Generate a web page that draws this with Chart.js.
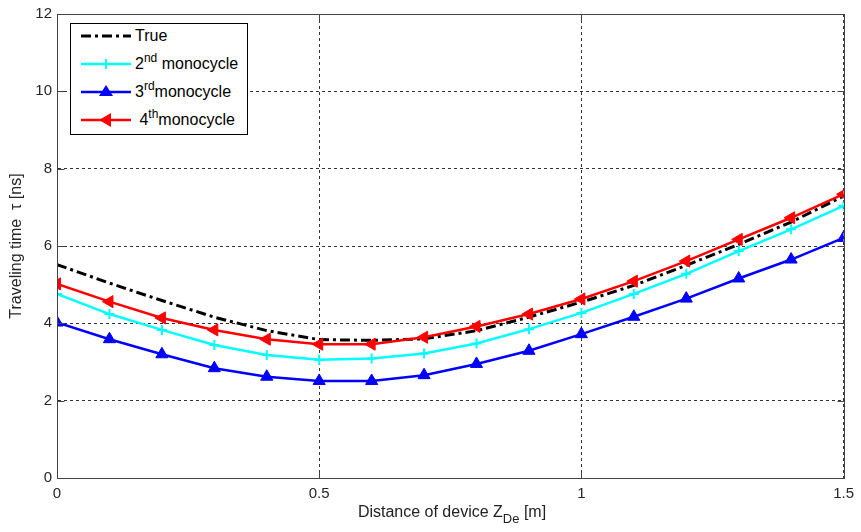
<!DOCTYPE html>
<html>
<head>
<meta charset="utf-8">
<script src="https://cdn.jsdelivr.net/npm/chart.js@4.4.1/dist/chart.umd.min.js"></script>
<style>
  body { margin: 0; background: #fff; }
  #wrap { position: relative; width: 861px; height: 532px; font-family: "Liberation Sans", Arial, sans-serif; }
  #legend { position: absolute; left: 70px; top: 23px; width: 176px; height: 110px; border: 1px solid #000; background: #fff; }
  .row { position: absolute; left: 0; height: 26px; font-size: 16px; line-height: 26px; color: #000; }
  .row svg { position: absolute; left: 9px; top: 3px; }
  .row span { position: absolute; left: 64px; white-space: nowrap; }
  sup { font-size: 12px; vertical-align: 7px; line-height: 0; }
  #xtitle { position: absolute; left: 0; width: 904px; top: 503px; text-align: center; font-size: 16px; color: #222; }
  sub { font-size: 13px; vertical-align: -6px; line-height: 0; }
</style>
</head>
<body>
<div id="wrap">
  <canvas id="chart" width="861" height="532"></canvas>
  <div id="legend">
    <div class="row" style="top:-1px">
      <svg width="52" height="20"><line x1="1" y1="10" x2="51" y2="10" stroke="#000" stroke-width="3" stroke-dasharray="10,4,3,4"/></svg>
      <span>True</span>
    </div>
    <div class="row" style="top:27px">
      <svg width="52" height="20"><line x1="1" y1="10" x2="51" y2="10" stroke="#00ffff" stroke-width="2.5"/><line x1="26" y1="5" x2="26" y2="15" stroke="#00ffff" stroke-width="2"/></svg>
      <span>2<sup>nd</sup> monocycle</span>
    </div>
    <div class="row" style="top:55px">
      <svg width="52" height="20"><line x1="1" y1="10" x2="51" y2="10" stroke="#0000ff" stroke-width="2.5"/><polygon points="26,3 33,14 19,14" fill="#0000ff"/></svg>
      <span>3<sup>rd</sup>monocycle</span>
    </div>
    <div class="row" style="top:83px">
      <svg width="52" height="20"><line x1="1" y1="10" x2="51" y2="10" stroke="#ff0000" stroke-width="2.5"/><polygon points="19,10 31,3 31,17" fill="#ff0000"/></svg>
      <span>&nbsp;4<sup>th</sup>monocycle</span>
    </div>
  </div>
  <div id="xtitle">Distance of device Z<sub>De</sub> [m]</div>
</div>
<script>
// distance of device (m)
var distances = [0, 0.1, 0.2, 0.3, 0.4, 0.5, 0.6, 0.7, 0.8, 0.9, 1.0, 1.1, 1.2, 1.3, 1.4, 1.5];
// traveling time (ns)
var trueTime   = [5.52, 5.04, 4.59, 4.16, 3.81, 3.58, 3.56, 3.60, 3.81, 4.16, 4.55, 4.98, 5.50, 6.04, 6.62, 7.29];
var secondMono = [4.76, 4.24, 3.83, 3.44, 3.18, 3.06, 3.09, 3.22, 3.48, 3.85, 4.27, 4.76, 5.28, 5.87, 6.43, 7.04];
var thirdMono  = [4.02, 3.59, 3.20, 2.84, 2.62, 2.51, 2.51, 2.66, 2.95, 3.29, 3.72, 4.17, 4.64, 5.16, 5.65, 6.21];
var fourthMono = [5.02, 4.56, 4.14, 3.83, 3.59, 3.46, 3.46, 3.64, 3.92, 4.24, 4.63, 5.09, 5.61, 6.17, 6.73, 7.34];
var xTicks = [0, 0.5, 1, 1.5];
var yTicks = [0, 2, 4, 6, 8, 10, 12];

function toPoints(vals){
  var pts = [];
  for(var i = 0; i < distances.length; i++){
    pts.push({x: distances[i], y: vals[i]});
  }
  return pts;
}

// box round the plot area with inner tick marks, like matlab axes
var boxPlugin = {
  id: 'box',
  afterDraw: function(chart){
    var a = chart.chartArea, ctx = chart.ctx;
    var l = Math.round(a.left) + 0.5, r = Math.round(a.right) + 0.5;
    var t = Math.round(a.top) + 0.5, b = Math.round(a.bottom) + 0.5;
    ctx.save();
    ctx.strokeStyle = '#444';
    ctx.lineWidth = 1;
    ctx.strokeRect(l, t, r - l, b - t);
    ctx.beginPath();
    xTicks.forEach(function(v){
      var px = Math.round(chart.scales.x.getPixelForValue(v)) + 0.5;
      ctx.moveTo(px, b); ctx.lineTo(px, b - 7);
      ctx.moveTo(px, t); ctx.lineTo(px, t + 7);
    });
    yTicks.forEach(function(v){
      var py = Math.round(chart.scales.y.getPixelForValue(v)) + 0.5;
      ctx.moveTo(l, py); ctx.lineTo(l + 7, py);
      ctx.moveTo(r, py); ctx.lineTo(r - 7, py);
    });
    ctx.stroke();
    ctx.restore();
  }
};

var font = {family: '"Liberation Sans", Arial, sans-serif', size: 15};

var ctx = document.getElementById('chart').getContext('2d');
var chart = new Chart(ctx, {
  type: 'line',
  data: {
    datasets: [{
      label: 'True',
      data: toPoints(trueTime),
      borderColor: '#000',
      borderWidth: 3,
      borderDash: [10, 4, 3, 4],
      pointRadius: 0,
      order: 4
    }, {
      label: '2nd monocycle',
      data: toPoints(secondMono),
      borderColor: '#00ffff',
      backgroundColor: '#00ffff',
      borderWidth: 2.5,
      pointStyle: 'cross',
      pointRadius: 5,
      pointBorderWidth: 2,
      order: 3
    }, {
      label: '3rd monocycle',
      data: toPoints(thirdMono),
      borderColor: '#0000ff',
      backgroundColor: '#0000ff',
      borderWidth: 2.5,
      pointStyle: 'triangle',
      pointRadius: 7,
      pointBorderWidth: 1,
      order: 2
    }, {
      label: '4th monocycle',
      data: toPoints(fourthMono),
      borderColor: '#ff0000',
      backgroundColor: '#ff0000',
      borderWidth: 2.5,
      pointStyle: 'triangle',
      rotation: -90,
      pointRadius: 7,
      pointBorderWidth: 1,
      order: 1
    }]
  },
  options: {
    responsive: false,
    animation: false,
    layout: {padding: {left: 0, right: 14, top: 14, bottom: 0}},
    plugins: {legend: {display: false}, tooltip: {enabled: false}},
    scales: {
      x: {
        type: 'linear',
        min: 0, max: 1.5,
        afterBuildTicks: function(scale){ scale.ticks = xTicks.map(function(v){ return {value: v}; }); },
        ticks: {color: '#262626', font: font, padding: 7, maxRotation: 0,
                callback: function(v){ return String(v); }},
        grid: {color: '#333', lineWidth: 1, drawTicks: false},
        border: {display: true, color: '#444', dash: [3, 3]},
        afterFit: function(scale){ scale.height = 54; }
      },
      y: {
        min: 0, max: 12,
        afterBuildTicks: function(scale){ scale.ticks = yTicks.map(function(v){ return {value: v}; }); },
        ticks: {color: '#262626', font: font, padding: 5},
        grid: {color: '#333', lineWidth: 1, drawTicks: false},
        border: {display: true, color: '#444', dash: [3, 3]},
        title: {display: true, text: 'Traveling time  \u03c4 [ns]', color: '#262626', font: {family: font.family, size: 16}, padding: {top: 7, bottom: 0}},
        afterFit: function(scale){ scale.width = 57; }
      }
    }
  },
  plugins: [boxPlugin]
});
</script>
</body>
</html>
